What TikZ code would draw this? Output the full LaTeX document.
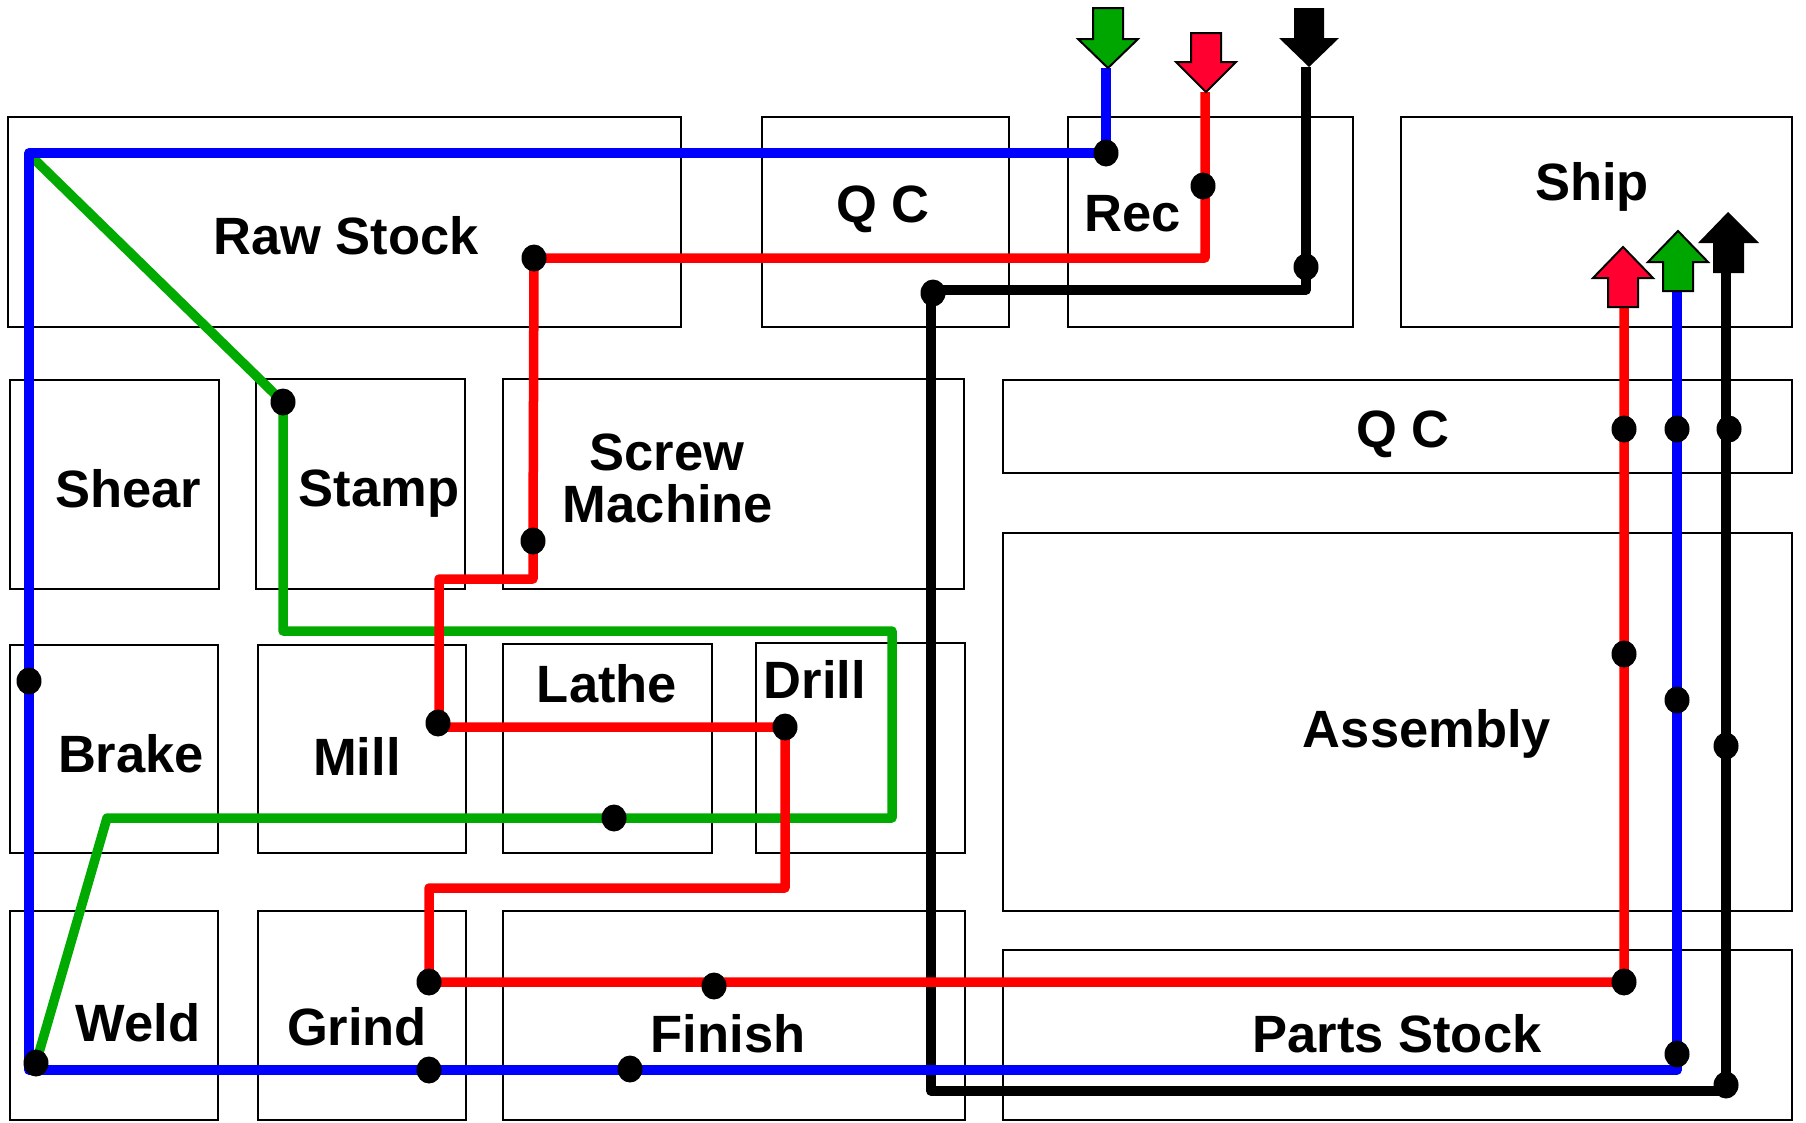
\documentclass[tikz,border=0pt]{standalone}
\usepackage{fontspec}
\setmainfont{Liberation Sans}
\usetikzlibrary{shapes.geometric}
\definecolor{cred}{RGB}{255,0,0}
\definecolor{cblue}{RGB}{0,0,255}
\definecolor{cgreen}{RGB}{0,170,0}
\definecolor{ared}{RGB}{255,0,48}
\definecolor{agreen}{RGB}{0,166,0}
\begin{document}
\begin{tikzpicture}[x=1pt,y=-1pt,
  area/.style={draw=black,line width=2pt},
  lbl/.style={font=\fontsize{52.5}{52}\selectfont\bfseries,anchor=base,inner sep=0pt},
  flow/.style={line width=9.5pt,line join=round,line cap=butt},
  dot/.style={ellipse,fill=black,minimum width=25pt,minimum height=27pt,inner sep=0pt},
  arrowbox/.style={draw=black,line width=2pt,line join=miter},
]
\useasboundingbox (0,0) rectangle (1806,1122);
\fill[white] (0,0) rectangle (1806,1122);

% ---- areas ----
\draw[area] (8,117) rectangle (681,327);
\draw[area] (762,117) rectangle (1009,327);
\draw[area] (1068,117) rectangle (1353,327);
\draw[area] (1401,117) rectangle (1792,327);
\draw[area] (10,380) rectangle (219,589);
\draw[area] (256,379) rectangle (465,589);
\draw[area] (503,379) rectangle (964,589);
\draw[area] (1003,380) rectangle (1792,473);
\draw[area] (1003,533) rectangle (1792,911);
\draw[area] (10,645) rectangle (218,853);
\draw[area] (258,645) rectangle (466,853);
\draw[area] (503,644) rectangle (712,853);
\draw[area] (756,643) rectangle (965,853);
\draw[area] (10,911) rectangle (218,1120);
\draw[area] (258,911) rectangle (466,1120);
\draw[area] (503,911) rectangle (965,1120);
\draw[area] (1003,950) rectangle (1792,1120);

% ---- labels ----
\node[lbl] (tRaw) at (346,254) {Raw Stock};
\node[lbl] (tQC1) at (883,222) {Q C};
\node[lbl] (tRec) at (1133,231) {Rec};
\node[lbl] (tShip) at (1592,200) {Ship};
\node[lbl] (tShear) at (128,507) {Shear};
\node[lbl] (tStamp) at (379,506) {Stamp};
\node[lbl] (tScrew) at (667,470) {Screw};
\node[lbl] (tMach) at (668,522) {Machine};
\node[lbl] (tQC2) at (1403,447) {Q C};
\node[lbl] (tAsm) at (1427,747) {Assembly};
\node[lbl] (tBrake) at (131,772) {Brake};
\node[lbl] (tMill) at (357,775) {Mill};
\node[lbl] (tLathe) at (607,702) {Lathe};
\node[lbl] (tDrill) at (815,698) {Drill};
\node[lbl] (tWeld) at (138,1041) {Weld};
\node[lbl] (tGrind) at (357,1045) {Grind};
\node[lbl] (tFin) at (728,1052) {Finish};
\node[lbl] (tPS) at (1397,1052) {Parts Stock};

% ---- coordinates ----
% blue
\coordinate (bIn) at (1106,68);
\coordinate (bRec) at (1106,153);
\coordinate (bTL) at (29,153);
\coordinate (bBrake) at (29,681);
\coordinate (bBL) at (29,1070);
\coordinate (bGrind) at (429,1070);
\coordinate (bFin) at (630,1069);
\coordinate (bBR) at (1677,1070);
\coordinate (bPS) at (1677,1054);
\coordinate (bAsm) at (1677,700);
\coordinate (bQC) at (1677,429);
\coordinate (bOut) at (1677,291);
% red
\coordinate (rIn) at (1205,92);
\coordinate (rRec) at (1203,186);
\coordinate (rC1) at (1205,258);
\coordinate (rRaw) at (534,258);
\coordinate (rScrew) at (533,541);
\coordinate (rC2) at (533,579);
\coordinate (rC3) at (439,579);
\coordinate (rMill) at (439,727);
\coordinate (rDrill) at (785,727);
\coordinate (rC4) at (785,888);
\coordinate (rC5) at (429,888);
\coordinate (rGrind) at (429,982);
\coordinate (rFin) at (714,982);
\coordinate (rPS) at (1624,982);
\coordinate (rAsm) at (1624,654);
\coordinate (rQC) at (1624,429);
\coordinate (rOut) at (1624,307);
% green
\coordinate (gStart) at (33,158);
\coordinate (gStamp) at (283,402);
\coordinate (gC1) at (283,631);
\coordinate (gC2) at (892,631);
\coordinate (gC3) at (892,818);
\coordinate (gLathe) at (614,818);
\coordinate (gC4) at (107,818);
\coordinate (gWeld) at (36,1063);
% black
\coordinate (kIn) at (1306,67);
\coordinate (kRec) at (1306,267);
\coordinate (kC1) at (1306,290);
\coordinate (kQC) at (931,290);
\coordinate (kBL) at (931,1091);
\coordinate (kPS) at (1726,1091);
\coordinate (kAsm) at (1726,746);
\coordinate (kQC2) at (1726,429);
\coordinate (kOut) at (1726,273);

% ---- flows ----
\draw[flow,black] (kIn) -- (kRec) -- (kC1) -- (kQC) -- (kBL) -- (kPS) -- (kAsm) -- (kQC2) -- (kOut);
\draw[flow,cgreen] (gStart) -- (gStamp) -- (gC1) -- (gC2) -- (gC3) -- (gLathe) -- (gC4) -- (gWeld);
\draw[flow,cblue] (bIn) -- (bRec) -- (bTL) -- (bBrake) -- (bBL) -- (bGrind) -- (bBR) -- (bPS) -- (bAsm) -- (bQC) -- (bOut);
\draw[flow,cred] (rIn) -- (rC1) -- (rRaw) -- (rScrew) -- (rC2) -- (rC3) -- (rMill) -- (rDrill) -- (rC4) -- (rC5) -- (rGrind) -- (rFin) -- (rPS) -- (rAsm) -- (rQC) -- (rOut);

% ---- block arrows ----
% incoming (down)
\filldraw[arrowbox,fill=agreen] (1093,8) -- (1123,8) -- (1123,39) -- (1138,39) -- (1108,68) -- (1078,39) -- (1093,39) -- cycle;
\filldraw[arrowbox,fill=ared] (1191,33) -- (1221,33) -- (1221,62) -- (1236,62) -- (1206,92) -- (1176,62) -- (1191,62) -- cycle;
\fill[black] (1294,8) -- (1324,8) -- (1324,38) -- (1339,38) -- (1309,67) -- (1279,38) -- (1294,38) -- cycle;
% outgoing (up)
\filldraw[arrowbox,fill=ared] (1608,307) -- (1638,307) -- (1638,278) -- (1653,278) -- (1623,247) -- (1593,278) -- (1608,278) -- cycle;
\filldraw[arrowbox,fill=agreen] (1663,291) -- (1693,291) -- (1693,262) -- (1708,262) -- (1678,231) -- (1648,262) -- (1663,262) -- cycle;
\fill[black] (1713,273) -- (1744,273) -- (1744,243) -- (1759,243) -- (1728,212) -- (1698,243) -- (1713,243) -- cycle;

% ---- dots ----
\node[dot] (dbRec) at (bRec) {};
\node[dot] (dbBrake) at (bBrake) {};
\node[dot] (dbGrind) at (bGrind) {};
\node[dot] (dbFin) at (bFin) {};
\node[dot] (dbPS) at (bPS) {};
\node[dot] (dbAsm) at (bAsm) {};
\node[dot] (dbQC) at (bQC) {};
\node[dot] (drRec) at (rRec) {};
\node[dot] (drRaw) at (rRaw) {};
\node[dot] (drScrew) at (rScrew) {};
\node[dot] (drMill) at (438,723) {};
\node[dot] (drDrill) at (rDrill) {};
\node[dot] (drGrind) at (rGrind) {};
\node[dot] (drFin) at (714,986) {};
\node[dot] (drPS) at (rPS) {};
\node[dot] (drAsm) at (rAsm) {};
\node[dot] (drQC) at (rQC) {};
\node[dot] (dgStamp) at (gStamp) {};
\node[dot] (dgLathe) at (gLathe) {};
\node[dot] (dgWeld) at (gWeld) {};
\node[dot] (dkRec) at (kRec) {};
\node[dot] (dkQC) at (933,293) {};
\node[dot] (dkPS) at (1726,1085) {};
\node[dot] (dkAsm) at (kAsm) {};
\node[dot] (dkQC2) at (1729,429) {};
\end{tikzpicture}
\end{document}
